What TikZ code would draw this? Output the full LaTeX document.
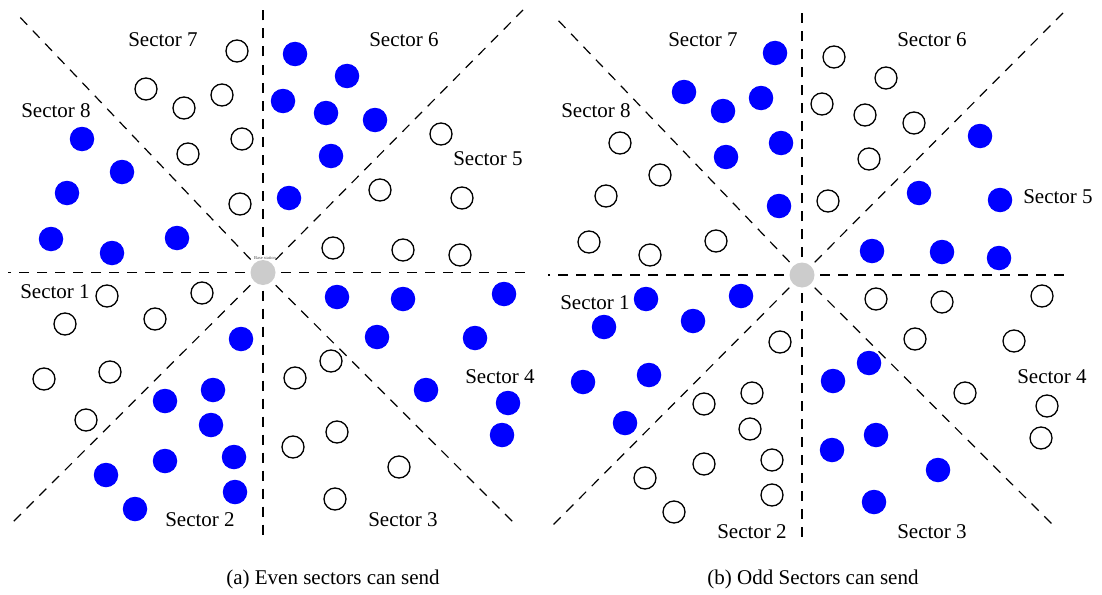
\documentclass[tikz,border=0pt]{standalone}
\usepackage{fontspec}
\setmainfont{Liberation Serif}
\begin{document}
\begin{tikzpicture}[x=1pt,y=-1pt,
  busy/.style={circle,fill={rgb,255:red,0;green,0;blue,255},draw=none,minimum size=24.5pt,inner sep=0pt},
  idle/.style={circle,draw=black,line width=1.3pt,fill=white,minimum size=22pt,inner sep=0pt},
  bs/.style={circle,fill={rgb,255:red,204;green,204;blue,204},draw=none,minimum size=25pt,inner sep=0pt},
  sect/.style={line width=1.2pt,dash pattern=on 10pt off 8pt},
  lbl/.style={font=\fontsize{21}{24}\selectfont,inner sep=0pt},
  captext/.style={font=\fontsize{21}{24}\selectfont,inner sep=0pt}]
\useasboundingbox (0,0) rectangle (1102,594);
% ---------- left panel ----------
\coordinate (Lc) at (263,272.5);
\coordinate (LW) at (8,272.5);
\coordinate (LE) at (526,272.5);
\coordinate (LN) at (263,10);
\coordinate (LS) at (263,537);
\coordinate (LNW) at (16,13);
\coordinate (LNE) at (523,10);
\coordinate (LSW) at (13,522);
\coordinate (LSE) at (513,522);
\foreach \e in {LW,LE,LN,LS,LNW,LNE,LSW,LSE} \draw[sect] (Lc) -- (\e);
\node[bs] (Lbs) at (Lc) {};
\node[font=\fontsize{4.5}{5}\selectfont,inner sep=0pt,text=black!70] (Lbslbl) at (265,258) {Base station};
\foreach \x/\y [count=\i] in {237/51,146/89,184/108,222/95,242/139,188/154,240/204,
  441/134,380/190,462/198,333/248,403/250,460/255,
  107/296,202/293,65/324,155/319,44/379,110/372,86/420,
  331/361,295/378,337/432,293/447,399/467,335/499}
  \node[idle] (Lo\i) at (\x,\y) {};
\foreach \x/\y [count=\i] in {82/139,122/172,67/193,51/239,112/253,177/238,
  295/54,347/76,283/101,326/113,375/120,331/156,289/198,
  241/339,213/390,165/401,211/425,234/457,165/461,106/475,235/492,135/509,
  337/297,403/299,504/294,377/337,475/338,426/390,508/403,502/435}
  \node[busy] (Lf\i) at (\x,\y) {};
\node[lbl] (L7) at (163,40) {Sector 7};
\node[lbl] (L8) at (56,111) {Sector 8};
\node[lbl] (L6) at (404,40) {Sector 6};
\node[lbl] (L5) at (488,159) {Sector 5};
\node[lbl] (L1) at (55,292) {Sector 1};
\node[lbl] (L2) at (200,520) {Sector 2};
\node[lbl] (L4) at (500,377) {Sector 4};
\node[lbl] (L3) at (403,520) {Sector 3};
\node[captext] (capa) at (333,579) {(a) Even sectors can send};
% ---------- right panel ----------
\coordinate (Rc) at (802,275);
\coordinate (RW) at (548,275);
\coordinate (RE) at (1064,275);
\coordinate (RN) at (802,13);
\coordinate (RS) at (802,537);
\coordinate (RNW) at (555,17);
\coordinate (RNE) at (1063,13);
\coordinate (RSW) at (553,525);
\coordinate (RSE) at (1052,524);
\foreach \e in {RW,RE,RN,RS,RNW,RNE,RSW,RSE} \draw[sect] (Rc) -- (\e);
\node[bs] (Rbs) at (Rc) {};
\foreach \x/\y [count=\i] in {620/143,660/175,606/196,589/242,650/255,716/241,
  834/57,886/78,822/104,865/115,914/123,869/159,828/201,
  780/342,752/393,704/404,750/429,772/460,704/464,645/478,772/495,674/512,
  876/299,942/302,1042/296,915/339,1014/341,965/393,1047/406,1041/438}
  \node[idle] (Ro\i) at (\x,\y) {};
\foreach \x/\y [count=\i] in {775/53,684/92,723/111,761/98,781/143,726/157,779/206,
  980/136,919/193,1000/200,872/251,942/252,999/258,
  646/299,741/296,604/327,693/321,583/382,649/375,625/423,
  869/363,833/381,876/435,832/450,938/470,874/502}
  \node[busy] (Rf\i) at (\x,\y) {};
\node[lbl] (R7) at (703,40) {Sector 7};
\node[lbl] (R8) at (596,111) {Sector 8};
\node[lbl] (R6) at (932,40) {Sector 6};
\node[lbl] (R5) at (1058,197) {Sector 5};
\node[lbl] (R1) at (595,303) {Sector 1};
\node[lbl] (R2) at (752,532) {Sector 2};
\node[lbl] (R4) at (1052,377) {Sector 4};
\node[lbl] (R3) at (932,532) {Sector 3};
\node[captext] (capb) at (813,579) {(b) Odd Sectors can send};
\end{tikzpicture}
\end{document}
